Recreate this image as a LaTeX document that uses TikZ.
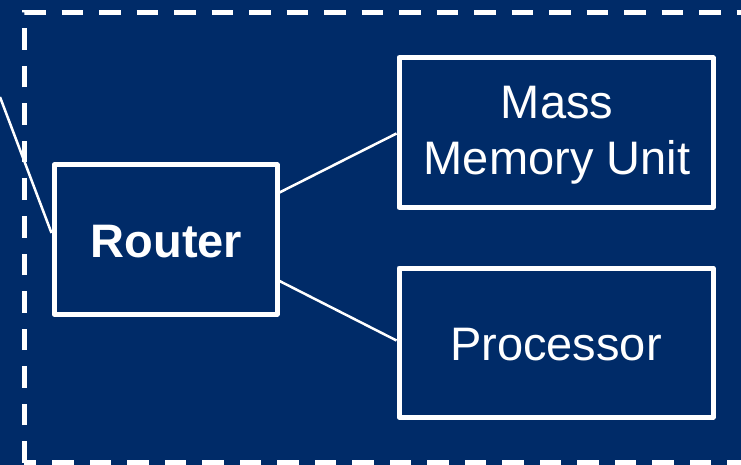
\documentclass[tikz,border=0pt]{standalone}
\usepackage{fontspec}
\setmainfont{Liberation Sans}
\definecolor{bgblue}{RGB}{0,43,104}
\begin{document}
\begin{tikzpicture}[x=1pt,y=-1pt,
  box/.style={draw=white,line width=5pt,line join=round,fill=bgblue,inner sep=0pt},
  boxtext/.style={text=white,inner sep=0pt,font=\fontsize{47}{56}\selectfont,align=center,yshift=-2.5pt},
  link/.style={draw=white,line width=2.5pt},
  frame/.style={draw=white,line width=5pt,dash pattern=on 21.5pt off 16pt}]
\useasboundingbox (0,0) rectangle (741,465);
\clip (0,0) rectangle (741,465);
\fill[bgblue] (0,0) rectangle (741,465);
\draw[frame] (24,462.5) -- (24,12.5) -- (780,12.5) -- (780,462.5) -- cycle;
\node[box,minimum width=223pt,minimum height=149pt,
  label={[boxtext,xshift=1pt]center:\bfseries Router}] (router) at (165.5,239.5) {};
\node[box,minimum width=314pt,minimum height=149.5pt,
  label={[boxtext,xshift=1pt]center:{Mass\\Memory Unit}}] (mmu) at (556,132.5) {};
\node[box,minimum width=314pt,minimum height=149pt,
  label={[boxtext]center:Processor}] (proc) at (556,342.5) {};
\coordinate (ext) at (0,97);
\draw[link] (ext) -- (router.west |- 0,233);
\draw[link] (router.east |- 0,192.5) -- (mmu.west |- 0,133.5);
\draw[link] (router.east |- 0,281) -- (proc.west |- 0,340.5);
\end{tikzpicture}
\end{document}
